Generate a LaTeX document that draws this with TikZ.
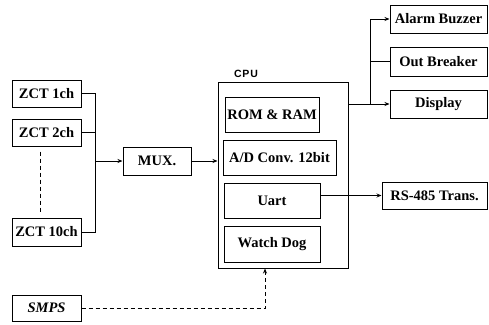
\documentclass[tikz,border=0pt]{standalone}
\usepackage{fontspec}
\setmainfont{Liberation Serif}
\newfontfamily\labelsans[LetterSpace=8]{Liberation Sans}
\usetikzlibrary{arrows.meta,calc}
\tikzset{
  blk/.style={draw, line width=1pt, inner sep=0pt, font=\fontsize{14.5}{16}\selectfont\bfseries},
  wire/.style={line width=0.9pt},
  arr/.style={wire, -{Stealth[length=5pt,width=4pt]}},
  dwire/.style={wire, dash pattern=on 4pt off 3pt},
}
\begin{document}
\begin{tikzpicture}[x=1pt,y=-1pt]
\useasboundingbox (0,0) rectangle (489,324);
% input channels
\node[blk, minimum width=69, minimum height=27] (z1) at (46.5,93.5) {ZCT 1ch};
\node[blk, minimum width=69, minimum height=27] (z2) at (46.5,132.5) {ZCT 2ch};
\node[blk, minimum width=69, minimum height=28] (z10) at (46.5,232) {ZCT 10ch};
\node[blk, minimum width=69, minimum height=26] (smps) at (46.5,308) {\itshape SMPS};
\node[blk, minimum width=68, minimum height=28] (mux) at (157,161) {MUX.};
% processor and its blocks
\node[blk, minimum width=130, minimum height=186] (cpu) at (283,175) {};
\node[font=\labelsans\fontsize{10.5}{12}\selectfont\bfseries] (cpulbl) at (246,74) {CPU};
\node[blk, minimum width=94, minimum height=35] (mem) at (272,114.5) {ROM \& RAM};
\node[blk, minimum width=113, minimum height=35] (adc) at (279.5,157.5) {A/D Conv. 12bit};
\node[blk, minimum width=96, minimum height=35] (uart) at (272,200.5) {Uart};
\node[blk, minimum width=96, minimum height=36] (wdg) at (272,244) {Watch Dog};
% outputs
\node[blk, minimum width=97, minimum height=28] (alarm) at (438.5,19) {Alarm Buzzer};
\node[blk, minimum width=97, minimum height=29] (brk) at (438.5,61.5) {Out Breaker};
\node[blk, minimum width=97, minimum height=28] (disp) at (438.5,104) {Display};
\node[blk, minimum width=105, minimum height=27] (rs) at (434.5,195.5) {RS-485 Trans.};
% channel bus into the multiplexer
\coordinate (bt) at (95,93.5);
\coordinate (bb) at (95,232);
\draw[wire] (z1.east) -- (bt) -- (bb) -- (z10.east);
\draw[wire] (z2.east) -- (z2.east -| bt);
\draw[arr] (mux.west -| bt) -- (mux.west);
\draw[dwire] ($(z2.south)+(-6.5,5)$) -- ($(z10.north)+(-6.5,-5)$);
\draw[arr] (mux.east) -- (mux.east -| cpu.west);
% output bus
\coordinate (ob) at (370,104);
\draw[arr] (disp.west -| cpu.east) -- (disp.west);
\draw[wire] (ob) -- (ob |- alarm.west);
\draw[arr] (ob |- alarm.west) -- (alarm.west);
\draw[wire] (ob |- brk.west) -- (brk.west);
% serial link
\draw[arr] (rs.west -| uart.east) -- (rs.west);
% power supply
\coordinate (pw) at (265,308);
\draw[dwire, -{Stealth[length=5pt,width=4pt]}] (smps.east) -- (pw) -- (pw |- cpu.south);
\end{tikzpicture}
\end{document}
